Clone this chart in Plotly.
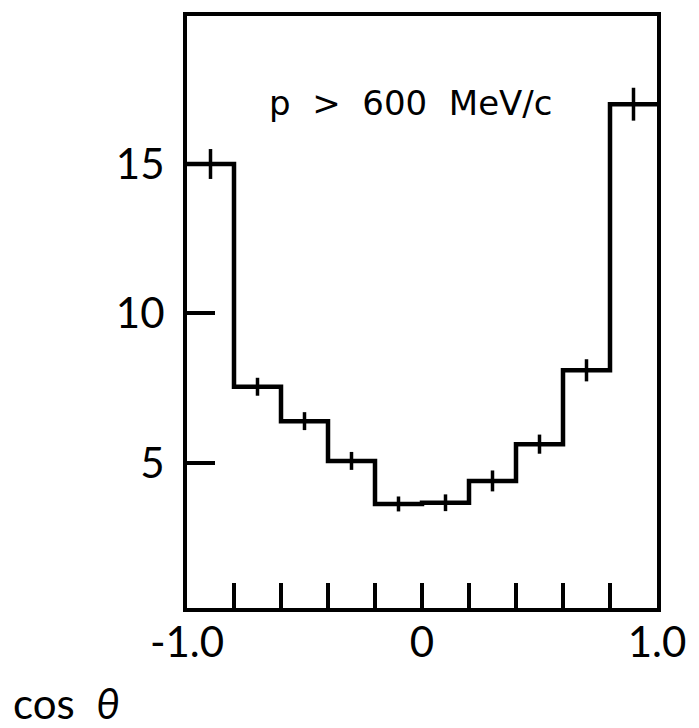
import plotly.graph_objects as go

# Data
bin_edges = [-1.0, -0.8, -0.6, -0.4, -0.2, 0.0, 0.2, 0.4, 0.6, 0.8, 1.0]
counts = [15.0, 7.55, 6.4, 5.07, 3.63, 3.67, 4.4, 5.63, 8.1, 17.0]
errors = [0.5, 0.3, 0.3, 0.3, 0.25, 0.28, 0.35, 0.32, 0.37, 0.55]
x_tick_vals = [-1.0, -0.8, -0.6, -0.4, -0.2, 0.0, 0.2, 0.4, 0.6, 0.8, 1.0]
x_tick_text = ["-1.0", "", "", "", "", "0", "", "", "", "", "1.0"]
y_tick_vals = [5, 10, 15]
y_tick_text = ["5", "10", "15"]
label_text = "p\u00a0\u00a0>\u00a0\u00a0600\u00a0\u00a0MeV/c"
x_title = "cos\u00a0\u00a0<i>θ</i>"

centers = [(bin_edges[i] + bin_edges[i + 1]) / 2 for i in range(len(counts))]

FONT = "Lato, 'Noto Sans', sans-serif"
FONT2 = "'DejaVu Sans', sans-serif"

fig = go.Figure()
fig.add_trace(go.Scatter(
    x=bin_edges,
    y=counts + [counts[-1]],
    mode="lines",
    line=dict(shape="hv", color="black", width=4.5),
    hoverinfo="skip",
    showlegend=False,
))
fig.add_trace(go.Scatter(
    x=centers,
    y=counts,
    mode="markers",
    marker=dict(size=0.1, color="black"),
    error_y=dict(type="data", array=errors, visible=True, color="black", thickness=3.5, width=0),
    showlegend=False,
))

fig.add_annotation(
    x=-0.051, y=17.05, xref="x", yref="y",
    text=label_text, showarrow=False,
    font=dict(family=FONT2, size=34, color="black"),
    xanchor="center", yanchor="middle",
)
fig.add_annotation(
    x=-0.375, y=-0.16, xref="paper", yref="paper",
    text=x_title, showarrow=False,
    font=dict(family=FONT, size=42, color="black"),
    xanchor="left", yanchor="middle",
)

fig.update_layout(
    width=691, height=720,
    margin=dict(l=179, r=42, t=4, b=120),
    paper_bgcolor="white", plot_bgcolor="white",
    font=dict(family=FONT, color="black"),
)
fig.update_xaxes(
    range=[-1.0, 1.0],
    tickmode="array", tickvals=x_tick_vals, ticktext=x_tick_text,
    ticks="inside", ticklen=25, tickwidth=3.5, tickcolor="black",
    showline=True, linewidth=4, linecolor="black", mirror=True,
    showgrid=False, zeroline=False,
    tickfont=dict(family=FONT, size=42, color="black"),
    ticklabelstandoff=-5,
)
fig.update_yaxes(
    range=[0.15, 19.95],
    tickmode="array", tickvals=y_tick_vals, ticktext=y_tick_text,
    ticks="inside", ticklen=28, tickwidth=3.5, tickcolor="black",
    showline=True, linewidth=4, linecolor="black", mirror=True,
    showgrid=False, zeroline=False,
    tickfont=dict(family=FONT, size=42, color="black"),
    ticklabelstandoff=10,
)

fig.write_html("out.html")
